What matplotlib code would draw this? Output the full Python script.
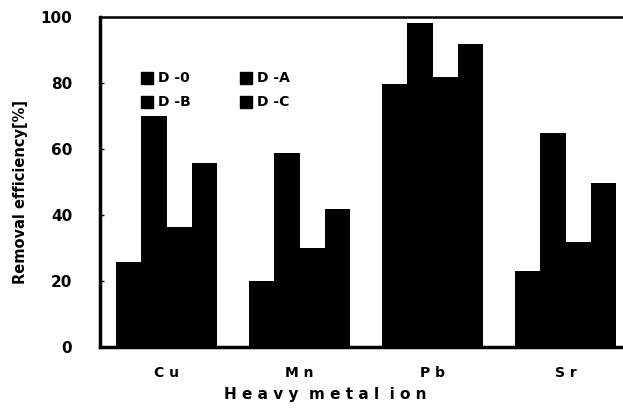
import numpy as np
from matplotlib import pyplot as plt

# data
metals = ["C u", "M n", "P b", "S r"]
series = ["D -0", "D -A", "D -B", "D -C"]
d0 = [25.8, 20.0, 79.7, 23.0]
da = [70.0, 58.8, 98.2, 64.8]
db = [36.4, 30.0, 81.8, 31.8]
dc = [55.8, 41.8, 91.8, 49.7]

plt.rcParams['font.family'] = ['DejaVu Sans']
plt.rcParams['font.weight'] = 'bold'
plt.rcParams['axes.labelweight'] = 'bold'

fig = plt.figure(figsize=(6.23, 4.09), dpi=100)
# right edge of the axes runs past the picture, as in the scan
ax = fig.add_axes([100 / 623, 1 - 347 / 409, 532 / 623, 330 / 409])

x = np.arange(len(metals))
w = 0.19
for i, vals in enumerate([d0, da, db, dc]):
    ax.bar(x + (i - 1.5) * w, vals, w, color='black', linewidth=0)

ax.set_xlim(-0.5, 3.5)
ax.set_ylim(0, 100)
ax.set_yticks([0, 20, 40, 60, 80, 100])
ax.set_xticks(x)
ax.set_xticklabels(metals)
ax.tick_params(axis='x', length=0, pad=14, labelsize=10)
ax.tick_params(axis='y', direction='in', length=3, width=1, pad=20, labelsize=11)

for side in ['left', 'bottom']:
    ax.spines[side].set_linewidth(2.5)
ax.spines['top'].set_linewidth(1.8)
ax.spines['right'].set_visible(False)

ax.set_ylabel("Removal efficiency[%]", fontsize=10.5)
ax.yaxis.set_label_coords(-0.136, 0.47)
ax.set_xlabel("H e a v y  m e t a l  i o n", fontsize=11)
ax.xaxis.set_label_coords(0.423, -0.12)

# legend: black squares, two columns
leg_x = [-0.15, 0.594]
leg_y = [81.5, 74.2]
for k, name in enumerate(series):
    col = k % 2
    row = k // 2
    ax.plot(leg_x[col], leg_y[row], marker='s', markersize=9, color='black')
    ax.text(leg_x[col] + 0.085, leg_y[row], name, va='center', fontsize=10)

fig.savefig("out.png", dpi=100)
